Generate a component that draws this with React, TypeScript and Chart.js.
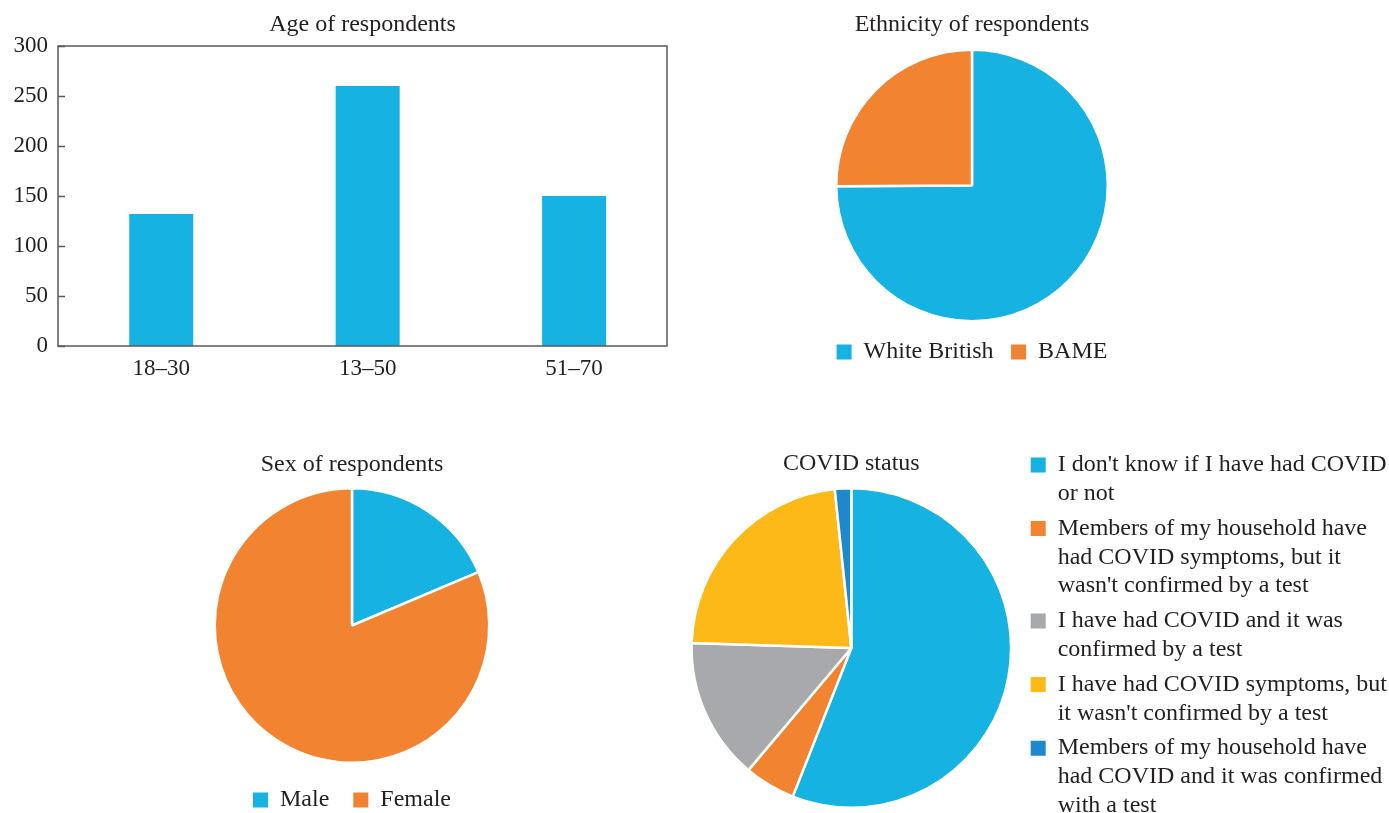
import React, { useEffect, useRef } from 'react';
import { Chart, registerables } from 'chart.js';

Chart.register(...registerables);

// ---------- data ----------
const ageLabels = ['18–30', '13–50', '51–70'];
const ageValues = [132, 260, 150];
const ageTickMin = 0;
const ageTickMax = 300;
const ageTickStep = 50;

const ethnicityLabels = ['White British', 'BAME'];
const ethnicityValues = [406, 136];

const sexLabels = ['Male', 'Female'];
const sexValues = [101, 441];

const covidLabels = [
  ["I don't know if I have had COVID", 'or not'],
  ['Members of my household have', 'had COVID symptoms, but it', "wasn't confirmed by a test"],
  ['I have had COVID and it was', 'confirmed by a test'],
  ['I have had COVID symptoms, but', "it wasn't confirmed by a test"],
  ['Members of my household have', 'had COVID and it was confirmed', 'with a test'],
];
const covidValues = [304, 28, 78, 124, 9];

// ---------- styles ----------
const BLUE = '#16b2e2';
const ORANGE = '#f28331';
const GRAY = '#a7a9ac';
const YELLOW = '#fcb918';
const DARKBLUE = '#1e88ca';
const TEXT = '#231f20';
const FONT = "'Liberation Serif', 'Times New Roman', serif";

Chart.defaults.font.family = FONT;
Chart.defaults.color = TEXT;

const noBorderLegendLabels = (chart: any) =>
  (Chart as any).overrides.pie.plugins.legend.labels
    .generateLabels(chart)
    .map((l: any) => ({ ...l, lineWidth: 0 }));

const framePlugin = {
  id: 'frame',
  afterDraw(chart: any) {
    const { ctx, chartArea } = chart;
    const { left, right, top, bottom } = chartArea;
    const y = chart.scales.y;
    ctx.save();
    ctx.strokeStyle = '#5a5a5a';
    ctx.lineWidth = 1.5;
    ctx.strokeRect(left, top, right - left, bottom - top);
    ctx.beginPath();
    y.ticks.forEach((_t: any, i: number) => {
      const py = Math.round(y.getPixelForTick(i)) + 0.5;
      ctx.moveTo(left, py);
      ctx.lineTo(left + 7, py);
    });
    ctx.stroke();
    ctx.restore();
  },
};

const titleFont = { size: 24, weight: 'normal' as const, lineHeight: 1.2, family: FONT };

function ageConfig(): any {
  return {
    type: 'bar',
    data: {
      labels: ageLabels,
      datasets: [
        {
          data: ageValues.map((v, i) => ({ x: i, y: v })),
          backgroundColor: BLUE,
          borderWidth: 0,
          barPercentage: 0.31,
          categoryPercentage: 1,
        },
      ],
    },
    plugins: [framePlugin],
    options: {
      animation: false,
      responsive: false,
      devicePixelRatio: 1,
      layout: { padding: { left: 0, right: 23, top: 0, bottom: 0 } },
      plugins: {
        legend: { display: false },
        tooltip: { enabled: false },
        title: {
          display: true,
          text: 'Age of respondents',
          fullSize: false,
          font: titleFont,
          color: TEXT,
          padding: { top: 10.6, bottom: 6.6 },
        },
      },
      scales: {
        x: {
          type: 'linear',
          min: -0.5,
          max: 2.45,
          offset: false,
          grid: { display: false, drawTicks: false },
          border: { display: false },
          afterBuildTicks: (s: any) => {
            s.ticks = ageLabels.map((_l, i) => ({ value: i }));
          },
          ticks: {
            font: { size: 23, family: FONT },
            color: TEXT,
            padding: 9,
            maxRotation: 0,
            autoSkip: false,
            callback: (v: any) => ageLabels[v] ?? '',
          },
          afterFit: (s: any) => {
            s.height = 44;
          },
        },
        y: {
          min: ageTickMin,
          max: ageTickMax,
          grid: { display: false, drawTicks: false },
          border: { display: false },
          ticks: { stepSize: ageTickStep, font: { size: 23, family: FONT }, color: TEXT, padding: 10 },
          afterFit: (s: any) => {
            s.width = 58;
          },
        },
      },
    },
  };
}

function pieConfig(
  labels: any[],
  values: number[],
  colors: string[],
  title: string,
  titlePad: { top: number; bottom: number },
  legendPadding: number
): any {
  return {
    type: 'pie',
    data: {
      labels,
      datasets: [
        {
          data: values,
          backgroundColor: colors,
          borderColor: '#ffffff',
          borderWidth: 2.5,
        },
      ],
    },
    options: {
      animation: false,
      responsive: false,
      devicePixelRatio: 1,
      plugins: {
        tooltip: { enabled: false },
        title: {
          display: true,
          text: title,
          font: titleFont,
          color: TEXT,
          padding: titlePad,
        },
        legend: {
          display: true,
          position: 'bottom',
          align: 'center',
          labels: {
            boxWidth: 15,
            boxHeight: 15,
            padding: legendPadding,
            color: TEXT,
            font: { size: 24, family: FONT, lineHeight: 1.2 },
            generateLabels: noBorderLegendLabels,
          },
        },
      },
    },
  };
}

function covidConfig(): any {
  return {
    type: 'pie',
    data: {
      labels: covidLabels,
      datasets: [
        {
          data: covidValues,
          backgroundColor: [BLUE, ORANGE, GRAY, YELLOW, DARKBLUE],
          borderColor: '#ffffff',
          borderWidth: 2.5,
        },
      ],
    },
    options: {
      animation: false,
      responsive: false,
      devicePixelRatio: 1,
      plugins: {
        tooltip: { enabled: false },
        title: {
          display: true,
          text: 'COVID status',
          fullSize: false,
          font: titleFont,
          color: TEXT,
          padding: { top: 2.6, bottom: 8.6 },
        },
        subtitle: {
          display: true,
          text: '',
          position: 'bottom',
          fullSize: false,
          font: { size: 10, lineHeight: 1 },
          padding: { top: 0, bottom: 13 },
        },
        legend: {
          display: true,
          position: 'right',
          align: 'start',
          maxWidth: 420,
          labels: {
            boxWidth: 15,
            boxHeight: 15,
            padding: 6,
            color: TEXT,
            font: { size: 24, family: FONT, lineHeight: 1.2 },
            generateLabels: noBorderLegendLabels,
          },
        },
      },
    },
  };
}

function ChartBox(props: { left: number; top: number; width: number; height: number; make: () => any }) {
  const ref = useRef<HTMLCanvasElement>(null);
  useEffect(() => {
    const chart = new Chart(ref.current as HTMLCanvasElement, props.make());
    return () => chart.destroy();
  }, []);
  return (
    <canvas
      ref={ref}
      width={props.width}
      height={props.height}
      style={{ position: 'absolute', left: props.left, top: props.top, width: props.width, height: props.height }}
    />
  );
}

export default function App() {
  return (
    <div
      style={{
        position: 'fixed',
        left: 0,
        top: 0,
        width: 1389,
        height: 813,
        overflow: 'hidden',
        background: '#ffffff',
      }}
    >
      <ChartBox left={0} top={0} width={690} height={390} make={ageConfig} />
      <ChartBox
        left={792}
        top={0}
        width={360}
        height={374}
        make={() =>
          pieConfig(ethnicityLabels, ethnicityValues, [BLUE, ORANGE], 'Ethnicity of respondents', { top: 10.6, bottom: 9.1 }, 17.5)
        }
      />
      <ChartBox
        left={201.5}
        top={440}
        width={300}
        height={382}
        make={() =>
          pieConfig(sexLabels, sexValues, [BLUE, ORANGE], 'Sex of respondents', { top: 10.6, bottom: 7.6 }, 24)
        }
      />
      <ChartBox left={678} top={447} width={719} height={385} make={covidConfig} />
    </div>
  );
}
